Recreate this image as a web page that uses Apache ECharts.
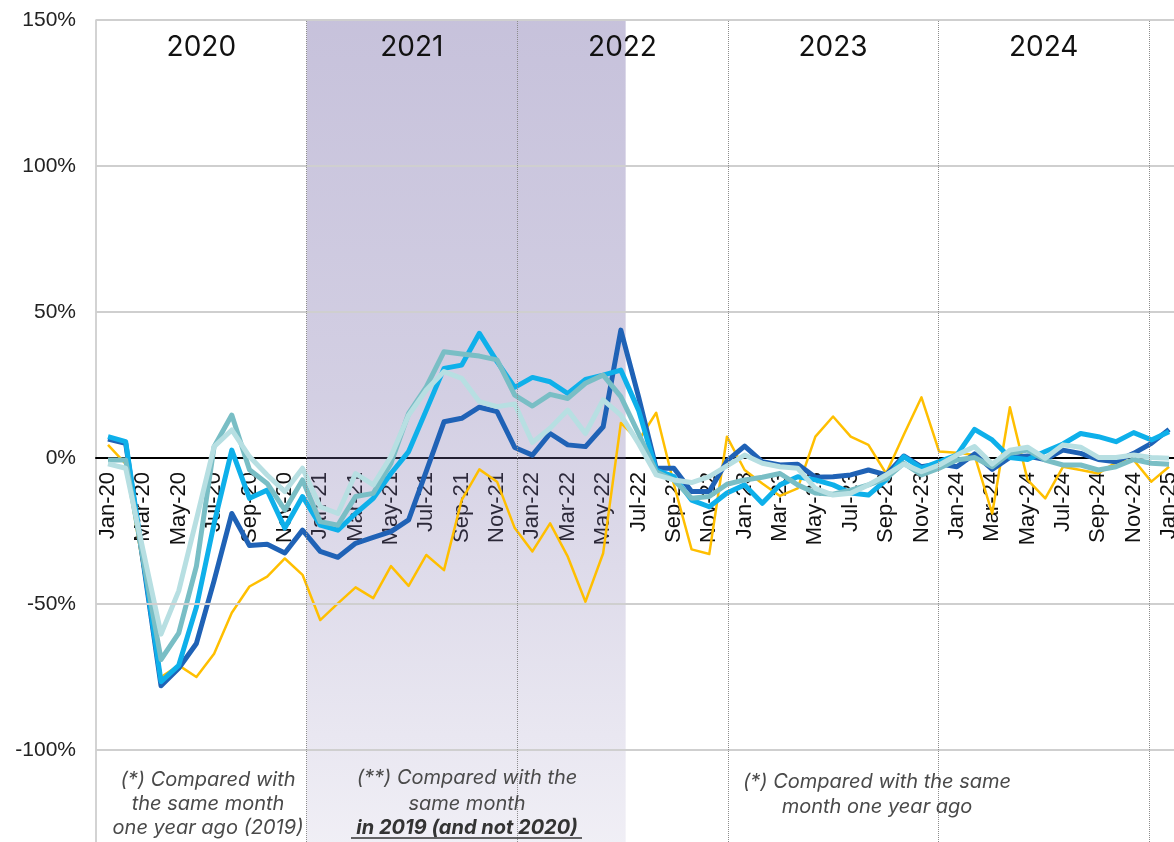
<!DOCTYPE html>
<html>
<head>
<meta charset="utf-8">
<title>Monthly change vs same month</title>
<script src="https://cdn.jsdelivr.net/npm/echarts@6/dist/echarts.min.js"></script>
<style>
  html, body { margin: 0; padding: 0; background: #fff; }
  #chart { width: 1174px; height: 842px; }
</style>
</head>
<body>
<div id="chart"></div>
<script>
// month labels, Jan-20 .. Jan-25
const months = [
  'Jan-20', 'Feb-20', 'Mar-20', 'Apr-20', 'May-20', 'Jun-20', 'Jul-20', 'Aug-20', 'Sep-20', 'Oct-20', 'Nov-20', 'Dec-20',
  'Jan-21', 'Feb-21', 'Mar-21', 'Apr-21', 'May-21', 'Jun-21', 'Jul-21', 'Aug-21', 'Sep-21', 'Oct-21', 'Nov-21', 'Dec-21',
  'Jan-22', 'Feb-22', 'Mar-22', 'Apr-22', 'May-22', 'Jun-22', 'Jul-22', 'Aug-22', 'Sep-22', 'Oct-22', 'Nov-22', 'Dec-22',
  'Jan-23', 'Feb-23', 'Mar-23', 'Apr-23', 'May-23', 'Jun-23', 'Jul-23', 'Aug-23', 'Sep-23', 'Oct-23', 'Nov-23', 'Dec-23',
  'Jan-24', 'Feb-24', 'Mar-24', 'Apr-24', 'May-24', 'Jun-24', 'Jul-24', 'Aug-24', 'Sep-24', 'Oct-24', 'Nov-24', 'Dec-24',
  'Jan-25'
];

const years = ['2020', '2021', '2022', '2023', '2024'];

const yTicks = [-100, -50, 0, 50, 100, 150];

// values in %
const darkBlue = [
  6.5, 5, -36, -78, -72, -63.5, -42, -19, -30, -29.5, -32.5, -24.7,
  -32, -34, -29.2, -27.2, -25.2, -21.2, -4.5, 12.4, 13.6, 17.4, 15.9, 3.6,
  1, 8.4, 4.5, 3.9, 10.7, 43.8, 21, -3.5, -3.5, -11.5, -11.5, -1,
  4.1, -1.3, -2.4, -2.1, -6.6, -6.4, -5.8, -4.1, -5.8, 0.7, -3, -2,
  -3, 1.4, -3.9, 0.2, 0.7, -0.5, 2.7, 1.6, -0.5, -1.3, 1.6, 5,
  9.8
];

const brightBlue = [
  7.3, 5.6, -35, -76.6, -71, -51, -22.4, 2.7, -13.8, -11, -24, -13.2,
  -23, -24.7, -19, -13.8, -5.3, 2.2, 16.4, 30.7, 31.8, 42.7, 33, 24.2,
  27.6, 26.1, 22.1, 26.9, 28.4, 30.1, 16.4, -4.1, -6.4, -14.4, -16.7, -12,
  -9.2, -15.5, -9.2, -6.4, -7.5, -9.2, -12, -12.7, -7.5, 0.5, -3.5, -1.2,
  1, 9.8, 6.2, 0.2, -0.5, 2.2, 4.8, 8.4, 7.3, 5.6, 8.7, 6.2,
  9
];

const teal = [
  -0.7, -0.7, -35, -69, -60, -37, 3.9, 14.7, -4, -8.7, -17.8, -7.5,
  -21.8, -23, -13.2, -12.1, -1.8, 15.3, 24.4, 36.4, 35.6, 34.9, 33.6, 21.5,
  17.8, 21.8, 20.4, 25.6, 28.4, 21, 8.4, -4.7, -7.5, -13.8, -13.2, -9,
  -7.5, -6.6, -5.3, -9.2, -12, -12.4, -11, -9.2, -7, -1.8, -5.8, -3.5,
  -0.7, 0.2, -3, 1.6, 2.7, -0.7, -2.4, -2.4, -4.1, -3, -0.5, -1.8,
  -2.1
];

const lightTeal = [
  -2, -3.5, -32, -60.3, -45.5, -21, 3.9, 9.6, 0.5, -5.8, -11.5, -3.5,
  -16.7, -19, -5.3, -9.2, 0.5, 14.7, 23.3, 29.6, 27.3, 19.3, 17.6, 18.5,
  5.3, 10.2, 16.4, 8.4, 19.9, 14.7, 5, -5.8, -7.5, -8.4, -6.4, -2.7,
  1, -1.8, -3, -3.5, -10.4, -12.7, -12.1, -9.2, -5.8, -2.1, -4.7, -2.4,
  1, 3.9, -2.1, 2.7, 3.7, -0.1, 4.5, 3.7, 0.2, 0.2, 1, 0.2,
  -0.1
];

const yellow = [
  4.5, -2, -38, -75, -71, -75, -67, -53, -44, -40.6, -34.4, -40,
  -55.5, -49.8, -44.3, -48, -37, -43.8, -33.2, -38.4, -14.4, -3.9, -8.1, -24,
  -32, -22.4, -33.8, -49.2, -32.6, 12, 6, 15.5, -9, -31.3, -32.9, 7.3,
  -4.1, -8.7, -13, -10.4, 7.3, 14.2, 7.3, 4.5, -5.3, 8, 20.8, 2.2,
  1.8, 1, -19, 17.4, -7.5, -13.8, -3, -4.1, -5.3, -1.5, -0.7, -8.1,
  -3
];

const Y_MIN = -131.5;
const Y_MAX = 150;
const GRID = { left: 96, right: 0, top: 20, bottom: 0 };
const CHART_H = 842;

// move the month axis up to the 0% line
const gridH = CHART_H - GRID.top - GRID.bottom;
const zeroOffset = -gridH * (0 - Y_MIN) / (Y_MAX - Y_MIN);

function pairs(arr) {
  return arr.map((v, i) => [i, v]);
}

function lineSeries(name, data, color, width) {
  return {
    name: name,
    type: 'line',
    xAxisIndex: 0,
    data: pairs(data),
    symbol: 'none',
    z: 3,
    lineStyle: { color: color, width: width, join: 'round' },
    itemStyle: { color: color }
  };
}

const chart = echarts.init(document.getElementById('chart'), null, { renderer: 'canvas' });

const labelFont = "'Liberation Sans', Arial, sans-serif";
const noteFont = "Inter, 'Liberation Sans', sans-serif";
const noteStyle = { textAlign: 'center', textVerticalAlign: 'middle', font: 'italic 20px ' + noteFont, fill: '#4a4a4a' };

function note(text, x, y, extra) {
  return { type: 'text', z: 20, style: Object.assign({ text: text, x: x, y: y }, noteStyle, extra || {}) };
}

const option = {
  animation: false,
  backgroundColor: '#fff',
  grid: Object.assign({ outerBoundsMode: 'none', containLabel: false }, GRID),
  xAxis: [
    {
      type: 'value',
      min: -0.6786,
      max: 60.28,
      position: 'bottom',
      offset: zeroOffset,
      axisLine: { onZero: false, lineStyle: { color: '#000', width: 2 } },
      axisTick: { show: false },
      splitLine: { show: false },
      axisLabel: {
        customValues: months.map((m, i) => i).filter(i => i % 2 === 0),
        formatter: v => months[v] || '',
        rotate: 90,
        margin: 14,
        fontSize: 22,
        fontFamily: labelFont,
        color: '#111'
      }
    },
    {
      // year bands (each year = 210.6 px)
      type: 'value',
      min: 0,
      max: 1078 / 210.6,
      show: false
    }
  ],
  yAxis: {
    type: 'value',
    min: Y_MIN,
    max: Y_MAX,
    axisLine: { show: true, onZero: false, lineStyle: { color: '#c4c4c4', width: 1.5 } },
    axisTick: { show: false },
    splitLine: { show: false },
    axisLabel: {
      customValues: yTicks,
      formatter: v => v + '%',
      margin: 20,
      fontSize: 21,
      fontFamily: labelFont,
      color: '#222'
    }
  },
  series: [
    {
      // horizontal grid lines
      type: 'line',
      xAxisIndex: 1,
      data: [],
      z: 1,
      silent: true,
      markLine: {
        silent: true,
        symbol: ['none', 'none'],
        label: { show: false },
        lineStyle: { color: '#cfcfcf', width: 2, type: 'solid' },
        data: yTicks.filter(v => v !== 0).map(v => ({ yAxis: v }))
      }
    },
    lineSeries('Series 5', yellow, '#ffbf00', 2.5),
    lineSeries('Series 1', darkBlue, '#1f62b6', 5),
    lineSeries('Series 2', brightBlue, '#0eb0ea', 5),
    lineSeries('Series 3', teal, '#79bec5', 5),
    lineSeries('Series 4', lightTeal, '#b7dfe2', 5),
    {
      // shaded 2021-mid 2022 band, year separators and year labels
      type: 'line',
      xAxisIndex: 1,
      data: [],
      z: 10,
      silent: true,
      markArea: {
        silent: true,
        data: [
          [
            {
              xAxis: 1,
              itemStyle: {
                color: {
                  type: 'linear', x: 0, y: 0, x2: 0, y2: 1,
                  colorStops: [
                    { offset: 0, color: 'rgba(118, 106, 168, 0.41)' },
                    { offset: 0.46, color: 'rgba(118, 106, 168, 0.32)' },
                    { offset: 1, color: 'rgba(118, 106, 168, 0.11)' }
                  ]
                }
              },
              label: { show: false }
            },
            { xAxis: 2.515 }
          ]
        ].concat(years.map((y, k) => [
          {
            name: y,
            xAxis: k,
            itemStyle: { color: 'rgba(0,0,0,0)' },
            label: {
              show: true,
              position: 'insideTop',
              distance: 14,
              fontSize: 28,
              fontFamily: noteFont,
              color: '#111'
            }
          },
          { xAxis: k + 1 }
        ]))
      },
      markLine: {
        silent: true,
        symbol: ['none', 'none'],
        label: { show: false },
        lineStyle: { color: '#8c8c8c', width: 1, type: 'dotted' },
        data: [1, 2, 3, 4, 5].map(v => ({ xAxis: v }))
      }
    }
  ],
  graphic: [
    // bottom notes
    note('(*) Compared with', 208, 780),
    note('the same month', 208, 804),
    note('one year ago (2019)', 208, 828),

    note('(**) Compared with the', 467, 778),
    note('same month', 467, 804),
    note('in 2019 (and not 2020)', 467, 828, { font: 'italic bold 20px ' + noteFont, fill: '#333' }),
    { type: 'line', z: 20, shape: { x1: 351, y1: 838, x2: 582, y2: 838 }, style: { stroke: '#333', lineWidth: 1.5 } },

    note('(*) Compared with the same', 877, 782),
    note('month one year ago', 877, 807)
  ]
};

chart.setOption(option);

window.addEventListener('resize', () => chart.resize());
</script>
</body>
</html>
